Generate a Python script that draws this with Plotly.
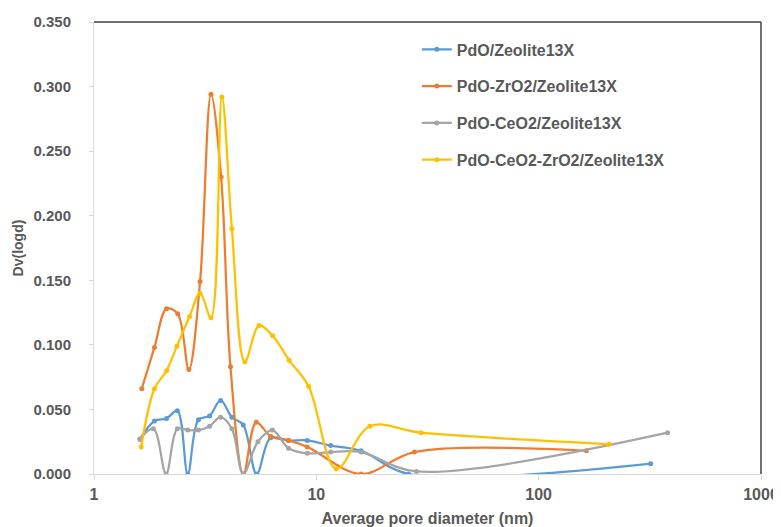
import plotly.graph_objects as go

# ---- data ----
names = ["PdO/Zeolite13X", "PdO-ZrO2/Zeolite13X", "PdO-CeO2/Zeolite13X", "PdO-CeO2-ZrO2/Zeolite13X"]
colors = ["#5B9BD5", "#ED7D31", "#A5A5A5", "#FFC000"]

blue_x = [1.61, 1.87, 2.12, 2.37, 2.64, 2.95, 3.31, 3.71, 4.17, 4.69, 5.39, 6.23, 7.50, 9.10, 11.6, 15.9, 26.0, 319]
blue_y = [0.027, 0.041, 0.043, 0.049, 0.000, 0.042, 0.045, 0.057, 0.044, 0.038, 0.000, 0.028, 0.026, 0.026, 0.022, 0.018, 0.000, 0.008]

orange_x = [1.64, 1.87, 2.12, 2.38, 2.67, 3.00, 3.36, 3.73, 4.11, 4.70, 5.37, 6.25, 7.50, 9.10, 15.9, 27.6, 164]
orange_y = [0.066, 0.098, 0.128, 0.124, 0.081, 0.149, 0.294, 0.230, 0.083, 0.000, 0.040, 0.029, 0.026, 0.021, 0.000, 0.017, 0.018]

gray_x = [1.61, 1.85, 2.11, 2.37, 2.64, 2.95, 3.31, 3.71, 4.17, 4.69, 5.46, 6.34, 7.50, 9.10, 11.6, 15.9, 28.2, 380]
gray_y = [0.027, 0.035, 0.000, 0.035, 0.034, 0.034, 0.037, 0.044, 0.035, 0.000, 0.025, 0.034, 0.020, 0.016, 0.017, 0.017, 0.002, 0.032]

yellow_x = [1.63, 1.87, 2.12, 2.36, 2.69, 3.00, 3.36, 3.76, 4.17, 4.77, 5.53, 6.36, 7.55, 9.23, 12.3, 17.4, 29.6, 207]
yellow_y = [0.021, 0.066, 0.080, 0.099, 0.122, 0.140, 0.121, 0.292, 0.190, 0.087, 0.115, 0.107, 0.088, 0.068, 0.004, 0.037, 0.032, 0.023]

y_ticks = [0.0, 0.05, 0.10, 0.15, 0.20, 0.25, 0.30, 0.35]
y_tick_labels = ["0.000", "0.050", "0.100", "0.150", "0.200", "0.250", "0.300", "0.350"]
x_ticks = [1, 10, 100, 1000]
x_tick_labels = ["1", "10", "100", "1000"]

series = [(blue_x, blue_y), (orange_x, orange_y), (gray_x, gray_y), (yellow_x, yellow_y)]

FONT = "Liberation Sans, Arial, sans-serif"
TXT = "#595959"
AX = "#D9D9D9"

fig = go.Figure()
for i, ((xs, ys), nm, c) in enumerate(zip(series, names, colors)):
    fig.add_trace(go.Scatter(
        x=xs, y=ys, name=nm, mode="lines+markers",
        line=dict(color=c, width=2.25, shape="spline", smoothing=1),
        marker=dict(color=c, size=5),
        legendgroup=str(i),
    ))

# the page body adds an 8px offset, so the figure is sized to fit the window
fig.update_layout(
    width=773, height=519,
    margin=dict(l=86, r=20, t=14, b=53),
    paper_bgcolor="white", plot_bgcolor="white",
    font=dict(family=FONT, color=TXT, size=16, weight="bold"),
    showlegend=True,
    legend=dict(x=0.484, y=0.977, xanchor="left", yanchor="top",
                bgcolor="rgba(0,0,0,0)", tracegroupgap=13,
                font=dict(family=FONT, size=16, color=TXT, weight="bold")),
    xaxis=dict(type="log", range=[0, 3], tickvals=x_ticks, ticktext=x_tick_labels,
               automargin=False,
               showgrid=False, zeroline=False, showline=True, linecolor=AX, linewidth=1,
               ticks="outside", ticklen=5, tickcolor=AX, ticklabelstandoff=1,
               tickfont=dict(family=FONT, size=16, color=TXT, weight="bold"),
               title=dict(text="Average pore diameter (nm)", standoff=10,
                          font=dict(family=FONT, size=16, color=TXT, weight="bold"))),
    yaxis=dict(range=[0, 0.35], tickvals=y_ticks, ticktext=y_tick_labels,
               automargin=False,
               showgrid=False, zeroline=False, showline=True, linecolor=AX, linewidth=1,
               ticks="outside", ticklen=4, tickcolor=AX, ticklabelstandoff=15,
               tickfont=dict(family=FONT, size=15, color=TXT, weight="bold"),
               title=dict(text="Dv(logd)", standoff=6,
                          font=dict(family=FONT, size=14, color=TXT, weight="bold"))),
)

# dark frame edges at top and right, as in the reference
fig.add_shape(type="line", xref="paper", yref="paper", x0=0, x1=1, y0=1, y1=1,
              line=dict(color="#404040", width=1.5))
fig.add_shape(type="line", xref="paper", yref="paper", x0=1, x1=1, y0=0, y1=1,
              line=dict(color="#404040", width=1.5))

fig.write_html("out.html")
